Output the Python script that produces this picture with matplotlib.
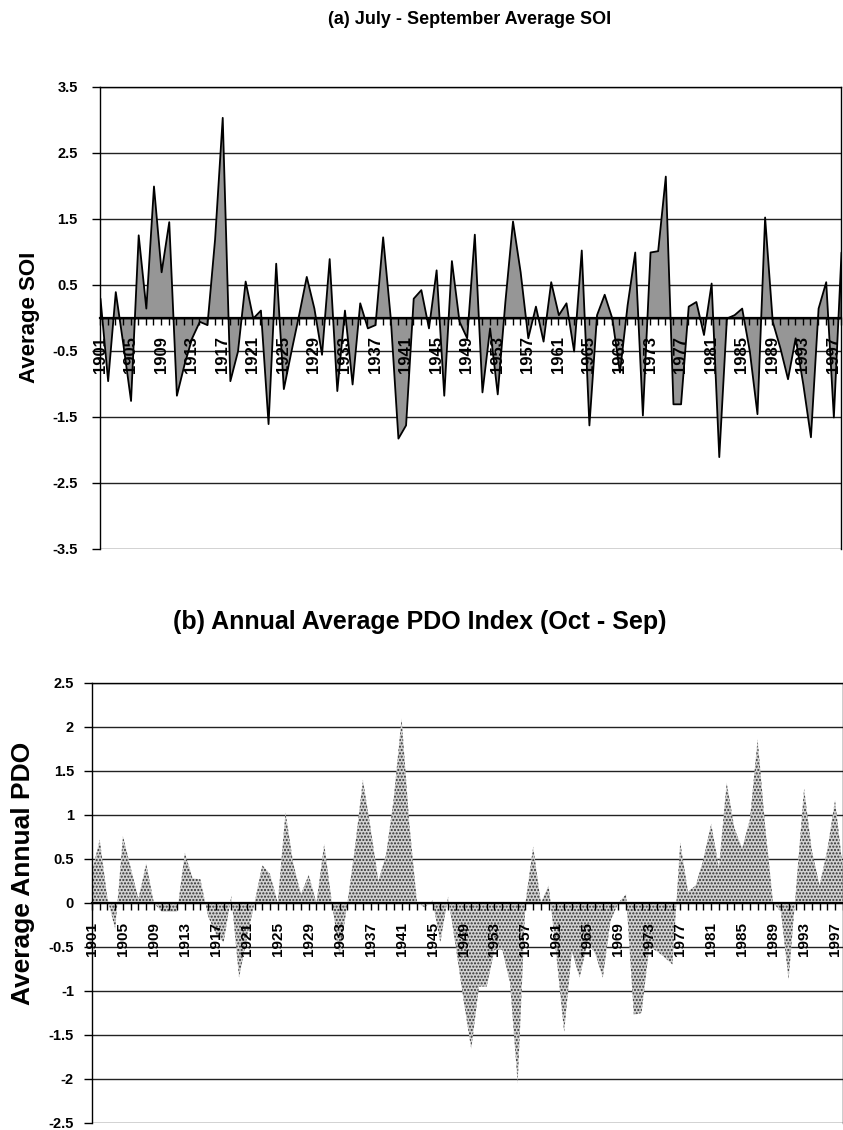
import matplotlib
matplotlib.use("Agg")
import matplotlib.pyplot as plt
import numpy as np

plt.rcParams['font.family'] = ['Liberation Sans', 'DejaVu Sans']
plt.rcParams['hatch.linewidth'] = 1.0

years = list(range(1901, 1999))

soi = [0.3, -0.95, 0.4, -0.4, -1.25, 1.26, 0.15, 2.0, 0.7, 1.46,
       -1.17, -0.7, -0.3, -0.05, -0.1, 1.2, 3.04, -0.95, -0.5, 0.56,
       0.0, 0.12, -1.6, 0.83, -1.07, -0.5, 0.05, 0.63, 0.15, -0.55,
       0.9, -1.1, 0.12, -1.0, 0.23, -0.15, -0.1, 1.23, 0.0, -1.82,
       -1.62, 0.3, 0.43, -0.15, 0.73, -1.17, 0.87, -0.05, -0.3, 1.27,
       -1.12, -0.15, -1.15, 0.25, 1.47, 0.7, -0.3, 0.18, -0.35, 0.55,
       0.05, 0.23, -0.5, 1.03, -1.62, 0.05, 0.36, 0.0, -0.82, 0.2,
       1.0, -1.47, 1.0, 1.02, 2.15, -1.3, -1.3, 0.18, 0.25, -0.25,
       0.53, -2.1, 0.0, 0.05, 0.15, -0.5, -1.45, 1.53, -0.05, -0.45,
       -0.92, -0.3, -1.0, -1.8, 0.15, 0.55, -1.5, 1.0]

pdo = [0.35, 0.72, 0.05, -0.3, 0.76, 0.4, 0.05, 0.45, 0.0, -0.1,
       -0.1, -0.1, 0.57, 0.28, 0.27, -0.15, -0.35, -0.45, 0.08, -0.85,
       -0.4, 0.0, 0.43, 0.33, 0.0, 1.03, 0.45, 0.1, 0.32, 0.0,
       0.67, 0.0, -0.6, 0.0, 0.65, 1.4, 0.85, 0.25, 0.55, 1.2,
       2.1, 0.9, 0.0, -0.05, 0.03, -0.45, 0.07, -0.5, -1.1, -1.66,
       -0.95, -0.95, -0.53, -0.53, -0.9, -2.05, 0.0, 0.64, 0.0, 0.2,
       -0.6, -1.47, -0.55, -0.85, -0.45, -0.57, -0.85, -0.2, 0.0, 0.1,
       -1.27, -1.25, -0.5, -0.55, -0.62, -0.7, 0.69, 0.13, 0.2, 0.5,
       0.9, 0.4, 1.37, 0.85, 0.62, 0.95, 1.86, 0.85, 0.0, -0.1,
       -0.87, 0.2, 1.3, 0.6, 0.2, 0.6, 1.17, 0.4]

label_years = list(range(1901, 1998, 4))
soi_yticks = [-3.5, -2.5, -1.5, -0.5, 0.5, 1.5, 2.5, 3.5]
pdo_yticks = [-2.5, -2, -1.5, -1, -0.5, 0, 0.5, 1, 1.5, 2, 2.5]

W, H = 843, 1130
fig = plt.figure(figsize=(W / 100, H / 100), dpi=100)
fig.patch.set_facecolor('white')

# ---------------- (a) SOI ----------------
ax1 = fig.add_axes([100 / W, 1 - 549 / H, 741 / W, 462 / H])
ax1.set_axisbelow(False)
ax1.set_xlim(1901, 1901 + 741 / 7.67)
ax1.set_ylim(-3.5, 3.5)
for v in soi_yticks:
    ax1.axhline(v, color='#222222', linewidth=1.0, zorder=1)
ax1.fill_between(years, soi, 0, facecolor='#969696', edgecolor='black',
                 linewidth=1.3, zorder=2)
ax1.set_yticks(soi_yticks)
ax1.set_yticklabels([f"{v:.1f}" for v in soi_yticks])
ax1.tick_params(axis='y', direction='out', length=6, width=1, pad=10,
                labelsize=10.5)
for lbl in ax1.get_yticklabels():
    lbl.set_fontweight('bold')
ax1.spines['bottom'].set_position(('data', 0))
ax1.spines['bottom'].set_linewidth(1.6)
for s in ['left', 'right', 'top']:
    ax1.spines[s].set_linewidth(1.0)
ax1.set_xticks(label_years)
ax1.set_xticks(years, minor=True)
ax1.set_xticklabels([str(y) for y in label_years], rotation=90,
                    fontweight='bold', fontsize=12)
ax1.tick_params(axis='x', which='both', direction='out', length=5, width=1,
                pad=8)

fig.text(470 / W, 1 - 20 / H, '(a) July - September Average SOI',
         ha='center', va='center', fontsize=13, fontweight='bold')
fig.text(30 / W, 1 - 317 / H, 'Average SOI', rotation=90, ha='center',
         va='center', fontsize=16, fontweight='bold')

# ---------------- (b) PDO ----------------
ax2 = fig.add_axes([92 / W, 1 - 1123 / H, 97 * 7.74 / W, 440 / H])
ax2.set_axisbelow(False)
ax2.set_xlim(1901, 1998)
ax2.set_ylim(-2.5, 2.5)
for v in pdo_yticks:
    ax2.axhline(v, color='#222222', linewidth=1.0, zorder=1)
ax2.fill_between(years, pdo, 0, facecolor='#d2d2d2', edgecolor='#303030',
                 hatch='.....', linewidth=0, zorder=2)
ax2.set_yticks(pdo_yticks)
ax2.set_yticklabels([f"{v:g}" for v in pdo_yticks])
ax2.tick_params(axis='y', direction='out', length=6, width=1, pad=7,
                labelsize=10.5)
for lbl in ax2.get_yticklabels():
    lbl.set_fontweight('bold')
ax2.spines['bottom'].set_position(('data', 0))
ax2.spines['bottom'].set_linewidth(1.6)
for s in ['left', 'right', 'top']:
    ax2.spines[s].set_linewidth(1.0)
ax2.set_xticks(label_years)
ax2.set_xticks(years, minor=True)
ax2.set_xticklabels([str(y) for y in label_years], rotation=90,
                    fontweight='bold', fontsize=11)
ax2.tick_params(axis='x', which='both', direction='out', length=5, width=1,
                pad=9)

fig.text(420 / W, 1 - 622 / H, '(b) Annual Average PDO Index (Oct - Sep)',
         ha='center', va='center', fontsize=18, fontweight='bold')
fig.text(23 / W, 1 - 873 / H, 'Average Annual PDO', rotation=90,
         ha='center', va='center', fontsize=19, fontweight='bold')

fig.savefig('out.png', dpi=100, facecolor='white')
